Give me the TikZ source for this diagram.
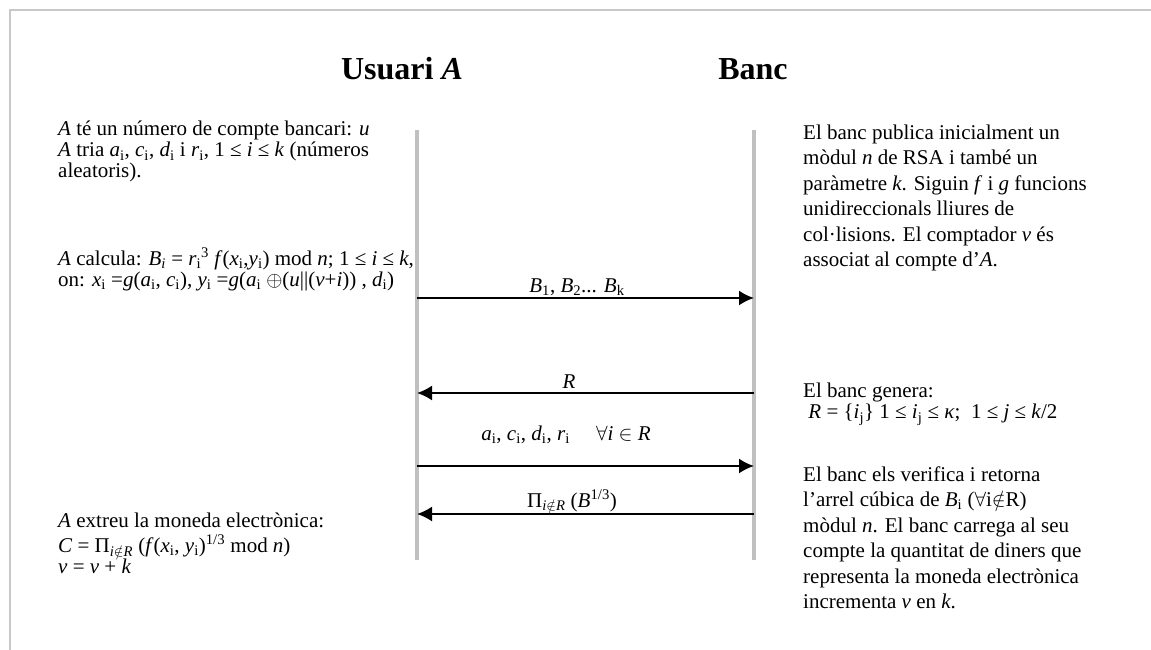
\documentclass[tikz,border=0pt]{standalone}
\usepackage{fontspec}
\setmainfont{Liberation Serif}
\usetikzlibrary{arrows.meta}
\newcommand{\itx}[1]{\textit{#1}}
\newcommand{\sbi}[1]{\textsubscript{#1}}
\newcommand{\spx}[1]{\textsuperscript{#1}}
\definecolor{lifegray}{HTML}{C0C0C0}
\definecolor{framegray}{HTML}{C8C8C8}
\begin{document}
\begin{tikzpicture}[x=1pt,y=-1pt,
  body/.style={font=\fontsize{21}{21}\selectfont, align=left, inner sep=0pt, anchor=north west},
  bodyr/.style={body, font=\fontsize{21}{25.5}\selectfont},
  ttl/.style={font=\fontsize{32}{32}\selectfont\bfseries, inner sep=0pt, anchor=base},
  lbl/.style={font=\fontsize{21}{21}\selectfont, inner sep=0pt, anchor=base},
  msg/.style={line width=2pt, -{Latex[length=15pt,width=15pt]}},
  life/.style={draw=lifegray, line width=3.5pt},
  frame/.style={draw=framegray, line width=2pt}]
\useasboundingbox (0,0) rectangle (1151,650);
\draw[frame] (10,650) -- (10,10) -- (1151,10);

% titles
\node[ttl] (tA) at (402,80) {Usuari \textit{A}};
\node[ttl] (tB) at (753,80) {Banc};

% lifelines
\coordinate (At) at (417,130);
\coordinate (Ab) at (417,560);
\coordinate (Bt) at (754,130);
\coordinate (Bb) at (754,560);
\draw[life] (At) -- (Ab);
\draw[life] (Bt) -- (Bb);

% left texts
\node[body] (L1) at (58,121) {\strut\itx{A} té un número de compte bancari: \itx{u}\\
\itx{A} tria \itx{a}\sbi{i}, \itx{c}\sbi{i}, \itx{d}\sbi{i} i \itx{r}\sbi{i}, 1 ≤ \itx{i} ≤ \itx{k} (números\\
aleatoris).};
\node[body] (L2) at (58,248) {\strut\itx{A} calcula: \itx{B\sbi{i}} = \itx{r}\sbi{i}\spx{3} \itx{f}(\itx{x}\sbi{i},\itx{y}\sbi{i}) mod \itx{n}; 1 ≤ \itx{i} ≤ \itx{k},\\
on: \itx{x}\sbi{i} =\itx{g}(\itx{a}\sbi{i}, \itx{c}\sbi{i}), \itx{y}\sbi{i} =\itx{g}(\itx{a}\sbi{i} $\oplus$(\itx{u}||(\itx{v}+\itx{i})) , \itx{d}\sbi{i})};
\node[body] (L3) at (58,513) {\strut\itx{A} extreu la moneda electrònica:\\
\itx{C} = Π\sbi{\itx{i}$\notin$\itx{R}} (\itx{f}(\itx{x}\sbi{i}, \itx{y}\sbi{i})\spx{1/3} mod \itx{n})\\
\itx{v} = \itx{v} + \itx{k}};

% right texts
\node[bodyr] (R1) at (803,121) {\strut El banc publica inicialment un\\
mòdul \itx{n} de RSA i també un\\
paràmetre \itx{k}. Siguin \itx{f} i \itx{g} funcions\\
unidireccionals lliures de\\
col·lisions. El comptador \itx{v} és\\
associat al compte d’\itx{A}.};
\node[body] (R2) at (803,383) {\strut El banc genera:\\
\ \itx{R} = \{\itx{i}\sbi{j}\} 1 ≤ \itx{i}\sbi{j} ≤ \itx{κ}; \ 1 ≤ \itx{j} ≤ \itx{k}/2};
\node[bodyr] (R3) at (803,463) {\strut El banc els verifica i retorna\\
l’arrel cúbica de \itx{B}\sbi{i} ($\forall$i$\notin$R)\\
mòdul \itx{n}. El banc carrega al seu\\
compte la quantitat de diners que\\
representa la moneda electrònica\\
incrementa \itx{v} en \itx{k}.};

% messages
\coordinate (a1) at (417,298); \coordinate (b1) at (754,298);
\coordinate (a2) at (417,393); \coordinate (b2) at (754,393);
\coordinate (a3) at (417,466); \coordinate (b3) at (754,466);
\coordinate (a4) at (417,514); \coordinate (b4) at (754,514);
\draw[msg] (a1) -- (b1);
\draw[msg] (b2) -- (a2);
\draw[msg] (a3) -- (b3);
\draw[msg] (b4) -- (a4);
\node[lbl] (m1) at (577,292) {\itx{B}\sbi{1}, \itx{B}\sbi{2}... \itx{B}\sbi{k}};
\node[lbl] (m2) at (569,388) {\itx{R}};
\node[lbl] (m3) at (566,440) {\itx{a}\sbi{i}, \itx{c}\sbi{i}, \itx{d}\sbi{i}, \itx{r}\sbi{i} \quad$\forall$\itx{i} $\in$ \itx{R}};
\node[lbl] (m4) at (572,507) {Π\sbi{\itx{i}$\notin$\itx{R}} (\itx{B}\spx{1/3})};
\end{tikzpicture}
\end{document}
